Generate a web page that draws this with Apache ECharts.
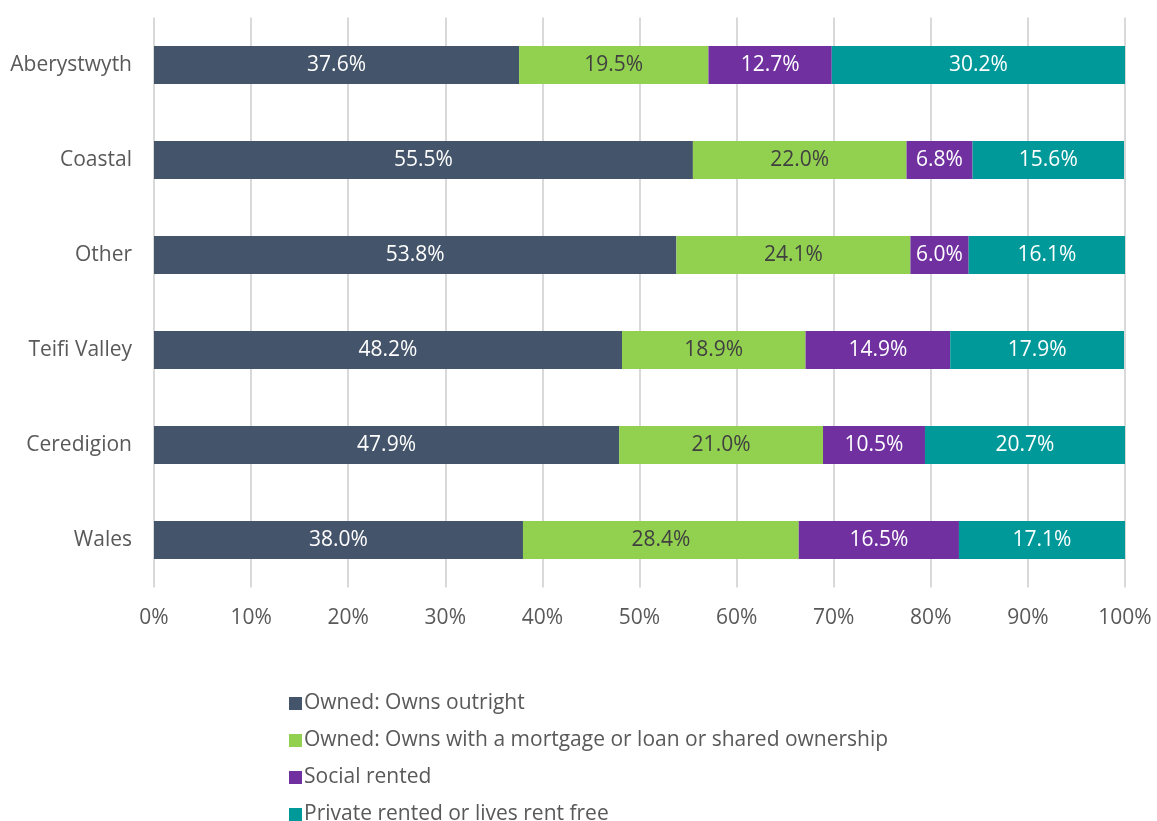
<!DOCTYPE html>
<html><head><meta charset="utf-8">
<script src="https://cdn.jsdelivr.net/npm/echarts@6/dist/echarts.min.js"></script>
<style>html,body{margin:0;padding:0;background:#fff}#c{width:1157px;height:821px}</style>
</head><body><div id="c"></div>
<script>
const categories = ['Aberystwyth','Coastal','Other','Teifi Valley','Ceredigion','Wales'];
const seriesNames = ['Owned: Owns outright','Owned: Owns with a mortgage or loan or shared ownership','Social rented','Private rented or lives rent free'];
const ownedOutright = [37.6, 55.5, 53.8, 48.2, 47.9, 38.0];
const ownedMortgage = [19.5, 22.0, 24.1, 18.9, 21.0, 28.4];
const socialRented = [12.7, 6.8, 6.0, 14.9, 10.5, 16.5];
const privateRented = [30.2, 15.6, 16.1, 17.9, 20.7, 17.1];
const xTicks = [0,10,20,30,40,50,60,70,80,90,100];

const colors = ['#44546A','#92D050','#7030A0','#009999'];
const labelColors = ['#ffffff','#404040','#ffffff','#ffffff'];
const font = '"Open Sans", Roboto, sans-serif';
const data = [ownedOutright, ownedMortgage, socialRented, privateRented];

const chart = echarts.init(document.getElementById('c'));
chart.setOption({
  animation:false,
  textStyle:{fontFamily:font},
  grid:{left:154, right:32, top:17.5, height:570},
  legend:{
    orient:'vertical', left:284, top:688, height:140, width:800,
    itemWidth:13, itemHeight:13, itemGap:16,
    icon:'rect',
    textStyle:{fontSize:21, color:'#595959', fontFamily:font, padding:[0,0,0,-3]},
    data:seriesNames
  },
  xAxis:{
    type:'value', min:0, max:100, interval:10,
    axisLine:{show:false}, axisTick:{show:false},
    splitLine:{lineStyle:{color:'#D9D9D9', width:2}},
    axisLabel:{formatter:'{value}%', fontSize:21, color:'#595959', margin:20, fontFamily:font}
  },
  yAxis:{
    type:'category', data:categories, inverse:true,
    axisLine:{show:false}, axisTick:{show:false},
    axisLabel:{fontSize:21, color:'#595959', margin:22, fontFamily:font}
  },
  series: data.map((d,i)=>({
    name:seriesNames[i], type:'bar', stack:'total', barWidth:38,
    itemStyle:{color:colors[i]},
    label:{show:true, position:'inside', formatter:p=>p.value.toFixed(1)+'%', color:labelColors[i], fontSize:21, fontFamily:font},
    data:d
  }))
});
</script></body></html>
